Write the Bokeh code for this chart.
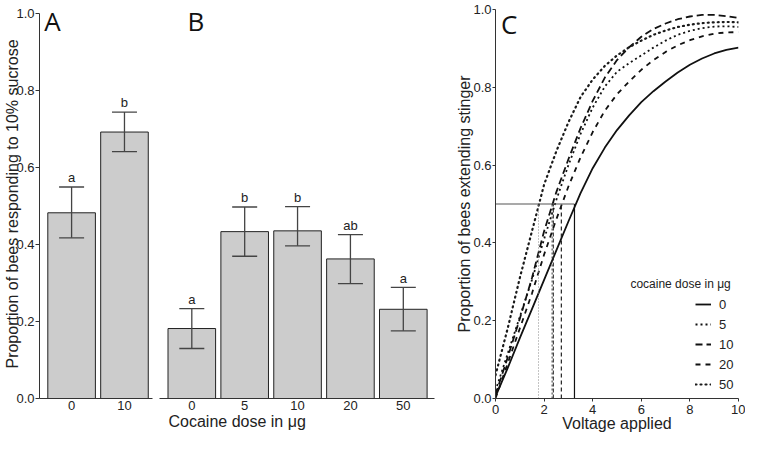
from bokeh.plotting import figure
from bokeh.layouts import row
from bokeh.models import (Range1d, FixedTicker, PrintfTickFormatter, ColumnDataSource,
                          Whisker, TeeHead, Label, Legend, LegendItem, Title)
from bokeh.core.properties import value
from bokeh.embed import file_html
from bokeh.resources import INLINE

# ---------------- data ----------------
# Panel A: response to 10% sucrose
dose_a = ["0", "10"]
mean_a = [0.483, 0.693]
upper_a = [0.550, 0.745]
lower_a = [0.418, 0.642]
sig_a = ["a", "b"]

# Panel B: response to 10% sucrose, dose series
dose_b = ["0", "5", "10", "20", "50"]
mean_b = [0.182, 0.434, 0.436, 0.363, 0.232]
upper_b = [0.234, 0.498, 0.499, 0.426, 0.289]
lower_b = [0.130, 0.370, 0.397, 0.299, 0.176]
sig_b = ["a", "b", "b", "ab", "a"]

# Panel C: stinger extension vs voltage
voltage = [0.0, 0.5, 1.0, 1.5, 2.0, 2.5, 3.0, 3.5, 4.0, 4.5, 5.0,
           5.5, 6.0, 6.5, 7.0, 7.5, 8.0, 8.5, 9.0, 9.5, 10.0]
sting_0 = [0.005, 0.078, 0.155, 0.230, 0.305, 0.380, 0.455, 0.528, 0.592, 0.645, 0.690,
           0.728, 0.762, 0.790, 0.815, 0.838, 0.858, 0.874, 0.887, 0.896, 0.902]
sting_5 = [0.020, 0.115, 0.210, 0.305, 0.410, 0.510, 0.600, 0.680, 0.748, 0.802, 0.840,
           0.862, 0.882, 0.902, 0.920, 0.935, 0.945, 0.952, 0.956, 0.957, 0.955]
sting_10 = [0.010, 0.105, 0.205, 0.310, 0.430, 0.530, 0.615, 0.695, 0.765, 0.825, 0.870,
            0.903, 0.930, 0.950, 0.964, 0.975, 0.982, 0.986, 0.986, 0.983, 0.978]
sting_20 = [0.000, 0.090, 0.180, 0.270, 0.370, 0.460, 0.545, 0.620, 0.685, 0.740, 0.782,
            0.815, 0.845, 0.870, 0.891, 0.908, 0.921, 0.931, 0.938, 0.941, 0.942]
sting_50 = [0.060, 0.180, 0.310, 0.430, 0.550, 0.635, 0.710, 0.775, 0.820, 0.855, 0.882,
            0.903, 0.920, 0.935, 0.946, 0.955, 0.961, 0.965, 0.967, 0.968, 0.967]
dose_c = ["0", "5", "10", "20", "50"]
ed50 = [3.25, 2.33, 2.38, 2.71, 1.77]
half_level = 0.5

y_ticks = [0.0, 0.2, 0.4, 0.6, 0.8, 1.0]
x_ticks_c = [0, 2, 4, 6, 8, 10]

# ---------------- styling ----------------
FONT = "Liberation Sans"
LETTER_FONT = "Open Sans"
H = 434
TOP = 9
BOTTOM = 36
AX = "#333333"
TXT = "#222222"
BAR_YMAX = 1.0117   # puts 1.0 of panels A/B a little below the shared frame top


def make_fig(width, x_range, y_range, ml, mr, y_axis=True):
    kw = dict(width=width, height=H, x_range=x_range, y_range=y_range,
              output_backend="svg", toolbar_location=None,
              min_border_left=ml, min_border_right=mr,
              min_border_top=TOP, min_border_bottom=BOTTOM)
    if not y_axis:
        kw["y_axis_location"] = None
    p = figure(**kw)
    p.xgrid.visible = False
    p.ygrid.visible = False
    p.outline_line_color = None
    p.background_fill_color = "white"
    p.border_fill_color = "white"
    return p


def style_axis(ax):
    ax.axis_line_color = AX
    ax.axis_line_width = 1
    ax.major_tick_line_color = AX
    ax.minor_tick_line_color = None
    ax.major_label_text_font = FONT
    ax.major_label_text_font_size = "13px"
    ax.major_label_text_color = TXT
    ax.axis_label_text_font = FONT
    ax.axis_label_text_font_size = "16px"
    ax.axis_label_text_font_style = "normal"
    ax.axis_label_text_color = TXT


def bar_panel(p, doses, means, uppers, lowers, sigs):
    xs = [i + 1 for i in range(len(doses))]
    src = ColumnDataSource(dict(x=xs, mean=means, upper=uppers, lower=lowers, sig=sigs,
                                lab_y=[u + 0.024 for u in uppers]))
    p.vbar(x="x", top="mean", width=0.9, source=src, fill_color="#cccccc",
           line_color="#222222", line_width=1)
    p.add_layout(Whisker(source=src, base="x", upper="upper", lower="lower",
                         level="overlay", line_color="#444444", line_width=1.3,
                         upper_head=TeeHead(size=25, line_color="#444444", line_width=1.3),
                         lower_head=TeeHead(size=25, line_color="#444444", line_width=1.3)))
    p.text(x="x", y="lab_y", text="sig", source=src, text_font=value(FONT),
           text_font_size="13px", text_align="center", text_baseline="alphabetic",
           text_color=TXT)
    ax = p.xaxis[0]
    style_axis(ax)
    ax.ticker = FixedTicker(ticks=xs)
    ax.major_label_overrides = {x: d for x, d in zip(xs, doses)}
    ax.major_tick_out = 0
    ax.major_tick_in = 0
    ax.major_label_standoff = 2


# ---------------- Panel A ----------------
pA = make_fig(155, Range1d(0.393, 2.53), Range1d(0, BAR_YMAX), 39, 3)
bar_panel(pA, dose_a, mean_a, upper_a, lower_a, sig_a)
ya = pA.yaxis[0]
style_axis(ya)
ya.bounds = (0, 1)
ya.ticker = FixedTicker(ticks=y_ticks)
ya.formatter = PrintfTickFormatter(format="%.1f")
ya.major_tick_out = 4
ya.major_tick_in = 0
ya.major_label_standoff = 1
ya.axis_label = "Proportion of bees responding to 10% sucrose"
ya.axis_label_standoff = -8
pA.add_layout(Label(x=0.484, y=0.981, text="A", text_font=LETTER_FONT,
                    text_font_size="26px", text_color="#111111",
                    text_baseline="alphabetic"))

# ---------------- Panel B ----------------
pB = make_fig(295, Range1d(0.389, 5.59), Range1d(0, BAR_YMAX), 4, 16, y_axis=False)
bar_panel(pB, dose_b, mean_b, upper_b, lower_b, sig_b)
pB.add_layout(Label(x=0.92, y=0.983, text="B", text_font=LETTER_FONT,
                    text_font_size="26px", text_color="#111111",
                    text_baseline="alphabetic"))
pB.add_layout(Title(text="Cocaine dose in \u03bcg", align="left", offset=9, standoff=-3,
                    text_font=FONT, text_font_size="16px", text_font_style="normal",
                    text_color=TXT), "below")

# ---------------- Panel C ----------------
pC = make_fig(295, Range1d(0, 10), Range1d(0, 1), 45, 7)
xc = pC.xaxis[0]
yc = pC.yaxis[0]
for ax in (xc, yc):
    style_axis(ax)
    ax.major_tick_in = 0
xc.ticker = FixedTicker(ticks=x_ticks_c)
xc.major_tick_out = 3
xc.major_label_standoff = 3
xc.axis_label = "Voltage applied"
xc.axis_label_standoff = -2
yc.ticker = FixedTicker(ticks=y_ticks)
yc.formatter = PrintfTickFormatter(format="%.1f")
yc.major_tick_out = 3
yc.major_label_standoff = 1
yc.axis_label = "Proportion of bees extending stinger"
yc.axis_label_standoff = -3

curves = [sting_0, sting_5, sting_10, sting_20, sting_50]
styles = [
    dict(line_color="#111111", line_width=1.8, line_dash="solid"),
    dict(line_color="#111111", line_width=1.8, line_dash="2 3"),
    dict(line_color="#111111", line_width=1.8, line_dash="7 4"),
    dict(line_color="#111111", line_width=1.8, line_dash="5 5"),
    dict(line_color="#1a1a1a", line_width=2.2, line_dash="1 4", line_cap="round"),
]
vstyles = [
    dict(line_color="#111111", line_width=1.2, line_dash="solid"),
    dict(line_color="#333333", line_width=1.0, line_dash="2 2"),
    dict(line_color="#222222", line_width=1.0, line_dash="4 2"),
    dict(line_color="#222222", line_width=1.2, line_dash="4 3"),
    dict(line_color="#888888", line_width=1.0, line_dash="1 2"),
]
items = []
for d, ys, st, vs, e in zip(dose_c, curves, styles, vstyles, ed50):
    r = pC.line(voltage, ys, **st)
    pC.segment(x0=[e], y0=[0], x1=[e], y1=[half_level], **vs)
    items.append(LegendItem(label=d, renderers=[r]))
pC.segment(x0=[0], y0=[half_level], x1=[max(ed50)], y1=[half_level],
           line_color="#555555", line_width=1.2)

legend = Legend(items=items, location=(200, 4), padding=0, margin=0, spacing=0,
                border_line_color=None, background_fill_alpha=0,
                glyph_width=16, glyph_height=20, label_height=20, label_standoff=8,
                label_text_font=FONT, label_text_font_size="13px",
                label_text_color=TXT)
pC.add_layout(legend)
pC.add_layout(Label(x=9.68, y=0.294, text="cocaine dose in \u03bcg", text_font=FONT,
                    text_font_size="12px", text_color=TXT, text_align="right",
                    text_baseline="middle"))
pC.add_layout(Label(x=0.23, y=0.964, text="C", text_font=LETTER_FONT,
                    text_font_size="26px", text_color="#111111",
                    text_baseline="alphabetic"))

layout = row(pA, pB, pC)
open("out.html", "w").write(file_html(layout, INLINE))
